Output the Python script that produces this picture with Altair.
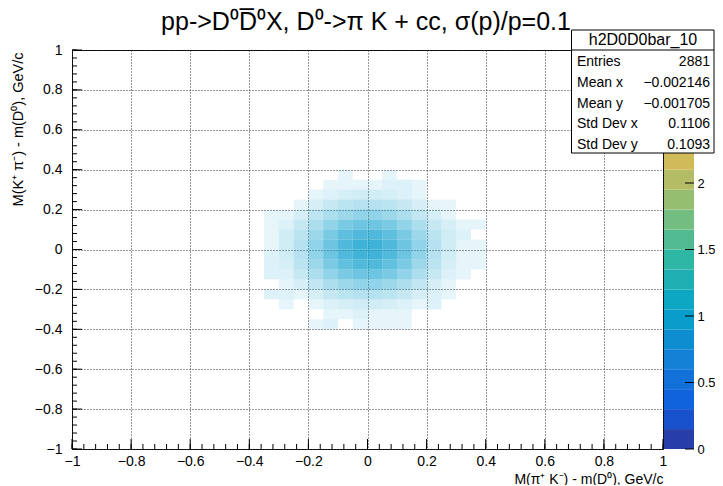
import altair as alt
import pandas as pd
import numpy as np

# ---------------- data ----------------
TITLE = "pp->D\u2070D\u0305\u2070X, D\u2070->\u03c0 K + cc, \u03c3(p)/p=0.1"
X_TITLE = "M(\u03c0\u207a K\u207b) - m(D\u2070), GeV/c"
Y_TITLE = "M(K\u207a \u03c0\u207b) - m(D\u2070), GeV/c"

X_TICKS = [-1, -0.8, -0.6, -0.4, -0.2, 0, 0.2, 0.4, 0.6, 0.8, 1]
Y_TICKS = [-1, -0.8, -0.6, -0.4, -0.2, 0, 0.2, 0.4, 0.6, 0.8, 1]
Z_TICKS = [0, 0.5, 1, 1.5, 2]          # visible palette labels (2.5 and 3 hidden by the stats box)
Z_MAX = 3.0
N_CONTOURS = 20

STAT_NAME = "h2D0D0bar_10"
STAT_LABELS = ["Entries", "Mean x", "Mean y", "Std Dev x", "Std Dev y"]
STAT_VALUES = ["2881", "\u22120.002146", "\u22120.001705", "0.1106", "0.1093"]

# estimated entries per 0.05 x 0.05 cell (rows: y from +0.425 down to -0.425)
X_CENTERS = [-0.425, -0.375, -0.325, -0.275, -0.225, -0.175, -0.125, -0.075, -0.025,
             0.025, 0.075, 0.125, 0.175, 0.225, 0.275, 0.325, 0.375, 0.425]
Y_CENTERS = [0.425, 0.375, 0.325, 0.275, 0.225, 0.175, 0.125, 0.075, 0.025,
             -0.025, -0.075, -0.125, -0.175, -0.225, -0.275, -0.325, -0.375, -0.425]
HALF = 0.025
COUNTS = [
    [0, 0, 0, 0, 0, 0, 0, 0, 0, 0, 0, 0, 0, 0, 0, 0, 0, 0],
    [0, 0, 0, 0, 0, 0, 0, 1, 0, 0, 1, 0, 0, 0, 0, 0, 0, 0],
    [0, 0, 0, 0, 0, 0, 1, 1, 1, 1, 2, 2, 1, 0, 0, 0, 0, 0],
    [0, 0, 0, 0, 0, 1, 2, 3, 4, 4, 3, 2, 1, 0, 0, 0, 0, 0],
    [0, 0, 0, 0, 1, 3, 6, 9, 11, 11, 9, 6, 3, 1, 1, 0, 0, 0],
    [0, 0, 1, 1, 3, 8, 14, 21, 26, 26, 21, 14, 7, 3, 1, 0, 0, 0],
    [0, 0, 1, 2, 6, 14, 26, 39, 48, 48, 39, 26, 14, 6, 3, 1, 1, 0],
    [0, 0, 1, 4, 9, 21, 39, 60, 73, 73, 60, 39, 21, 9, 4, 2, 0, 0],
    [0, 0, 1, 4, 11, 26, 48, 73, 90, 90, 73, 48, 26, 11, 4, 1, 1, 0],
    [0, 0, 2, 4, 11, 26, 48, 73, 89, 88, 72, 48, 26, 11, 4, 1, 1, 0],
    [0, 0, 2, 3, 9, 21, 39, 59, 72, 72, 59, 39, 21, 9, 3, 1, 1, 0],
    [0, 0, 2, 2, 6, 14, 26, 39, 48, 48, 39, 26, 14, 6, 2, 1, 0, 0],
    [0, 0, 0, 1, 3, 7, 14, 21, 26, 26, 21, 14, 7, 3, 1, 0, 0, 0],
    [0, 0, 2, 2, 1, 3, 6, 9, 11, 11, 9, 6, 3, 2, 1, 0, 0, 0],
    [0, 0, 0, 1, 0, 1, 2, 3, 4, 4, 3, 2, 1, 2, 0, 0, 0, 0],
    [0, 0, 0, 0, 0, 0, 1, 1, 2, 1, 1, 1, 0, 0, 0, 0, 0, 0],
    [0, 0, 0, 0, 0, 1, 2, 0, 1, 1, 1, 1, 0, 0, 0, 0, 0, 0],
    [0, 0, 0, 0, 0, 0, 0, 0, 0, 0, 0, 0, 0, 0, 0, 0, 0, 0],
]

# ---------------- ROOT kBird palette (style) ----------------
BIRD_STOPS = [0.0, 0.125, 0.25, 0.375, 0.5, 0.625, 0.75, 0.875, 1.0]
BIRD_R = [0.2082, 0.0592, 0.0780, 0.0232, 0.1802, 0.5301, 0.8186, 0.9956, 0.9764]
BIRD_G = [0.1664, 0.3599, 0.5041, 0.6419, 0.7178, 0.7492, 0.7328, 0.7862, 0.9832]
BIRD_B = [0.5293, 0.8684, 0.8385, 0.7914, 0.6425, 0.4662, 0.3499, 0.1968, 0.0539]


def bird(t):
    r = np.interp(t, BIRD_STOPS, BIRD_R)
    g = np.interp(t, BIRD_STOPS, BIRD_G)
    b = np.interp(t, BIRD_STOPS, BIRD_B)
    return "#%02x%02x%02x" % (int(round(r * 255)), int(round(g * 255)), int(round(b * 255)))


def band_color(k):
    idx = min(int((k + 0.99) * 255 / N_CONTOURS), 254)
    return bird(idx / 254.0)


dz = Z_MAX / N_CONTOURS
bands = pd.DataFrame({
    "zlo": [k * dz for k in range(N_CONTOURS)],
    "zhi": [(k + 1) * dz for k in range(N_CONTOURS)],
    "col": [band_color(k) for k in range(N_CONTOURS)],
})
ONE_COLOR = band_color(int(1.0 / dz))  # colour of a bin holding one entry

rows = []
for i, yc in enumerate(Y_CENTERS):
    for j, xc in enumerate(X_CENTERS):
        n = COUNTS[i][j]
        if n > 0:
            rows.append({"x0": xc - HALF, "x1": xc + HALF, "y0": yc - HALF, "y1": yc + HALF, "n": n})
cells = pd.DataFrame(rows)

# ---------------- layout ----------------
W, H = 591, 399
FONT = "Liberation Sans"

xscale = alt.Scale(domain=[-1, 1], nice=False, zero=False)
yscale = alt.Scale(domain=[-1, 1], nice=False, zero=False)
zscale = alt.Scale(domain=[0, Z_MAX], nice=False, zero=False)

xaxis = alt.Axis(values=X_TICKS, format="~g", grid=True, gridDash=[1, 2], gridColor="#333333",
                 gridWidth=1, ticks=False, domain=False, labelFontSize=14, labelPadding=5,
                 labelFlush=False, labelOverlap=False, labelColor="black",
                 title=X_TITLE, titleFontSize=14, titleFontWeight="normal", titleColor="black",
                 titleAnchor="end", titleAlign="right", titleBaseline="alphabetic",
                 titleX=W, titleY=34, zindex=0)
yaxis = alt.Axis(values=Y_TICKS, format="~g", grid=True, gridDash=[1, 2], gridColor="#333333",
                 gridWidth=1, ticks=False, domain=False, labelFontSize=14, labelPadding=10,
                 labelFlush=False, labelOverlap=False, labelColor="black",
                 title=Y_TITLE, titleFontSize=14.5, titleFontWeight="normal", titleColor="black",
                 titleAngle=270, titleAlign="right", titleBaseline="middle",
                 titleX=-54, titleY=2, zindex=0)
zaxis = alt.Axis(orient="right", values=Z_TICKS, format="~g", ticks=False, domain=False,
                 grid=False, offset=31, labelPadding=3, labelFontSize=13, labelColor="black",
                 labelFlush=False, labelOverlap=False, title=None, zindex=0)

density = alt.Chart(cells).mark_rect(color=ONE_COLOR, strokeWidth=0).encode(
    x=alt.X("x0:Q", scale=xscale, axis=xaxis),
    x2="x1:Q",
    y=alt.Y("y0:Q", scale=yscale, axis=yaxis),
    y2="y1:Q",
    opacity=alt.Opacity("n:Q", scale=alt.Scale(type="pow", exponent=0.45, domain=[0, 90], range=[0, 0.78]),
                        legend=None),
)

minor = [round(v, 2) for v in np.arange(-1.0, 1.0001, 0.04)]
xt_major = alt.Chart(pd.DataFrame({"x0": X_TICKS})).mark_rule(color="black").encode(
    x=alt.X("x0:Q", scale=xscale, axis=xaxis), y=alt.value(H), y2=alt.value(H - 10))
xt_minor = alt.Chart(pd.DataFrame({"x0": minor})).mark_rule(color="black").encode(
    x=alt.X("x0:Q", scale=xscale, axis=xaxis), y=alt.value(H), y2=alt.value(H - 5))
yt_major = alt.Chart(pd.DataFrame({"y0": Y_TICKS})).mark_rule(color="black").encode(
    y=alt.Y("y0:Q", scale=yscale, axis=yaxis), x=alt.value(0), x2=alt.value(10))
yt_minor = alt.Chart(pd.DataFrame({"y0": minor})).mark_rule(color="black").encode(
    y=alt.Y("y0:Q", scale=yscale, axis=yaxis), x=alt.value(0), x2=alt.value(5))

main = alt.layer(density, xt_major, xt_minor, yt_major, yt_minor)

cbar = alt.Chart(bands).mark_rect(strokeWidth=0).encode(
    x=alt.value(592), x2=alt.value(622),
    y=alt.Y("zlo:Q", scale=zscale, axis=zaxis), y2="zhi:Q",
    color=alt.Color("col:N", scale=None),
)
cbar_ticks = alt.Chart(pd.DataFrame({"zv": Z_TICKS})).mark_rule(color="black").encode(
    y=alt.Y("zv:Q", scale=zscale, axis=None), x=alt.value(613), x2=alt.value(622))

one = pd.DataFrame({"name": [STAT_NAME], "labels": ["\n".join(STAT_LABELS)],
                    "values": ["\n".join(STAT_VALUES)], "t": [TITLE]})
box = alt.Chart(one).mark_rect(fill="white", stroke="black", strokeWidth=1).encode(
    x=alt.value(499.5), x2=alt.value(642), y=alt.value(-20), y2=alt.value(103))
box_line = alt.Chart(one).mark_rule(color="black").encode(
    x=alt.value(499.5), x2=alt.value(642), y=alt.value(0))
box_head = alt.Chart(one).mark_text(fontSize=16, align="center", baseline="middle", color="black").encode(
    x=alt.value(571), y=alt.value(-10), text="name:N")
box_labels = alt.Chart(one).mark_text(fontSize=14, align="left", baseline="middle", color="black",
                                      lineBreak="\n", lineHeight=20.75).encode(
    x=alt.value(505), y=alt.value(12), text="labels:N")
box_values = alt.Chart(one).mark_text(fontSize=14, align="right", baseline="middle", color="black",
                                      lineBreak="\n", lineHeight=20.75).encode(
    x=alt.value(638), y=alt.value(12), text="values:N")
title = alt.Chart(one).mark_text(fontSize=25, align="center", baseline="alphabetic", color="black").encode(
    x=alt.value(294), y=alt.value(-20), text="t:N")

chart = alt.layer(main, cbar, cbar_ticks, box, box_line, box_head, box_labels, box_values, title).resolve_scale(
    y="independent"
).properties(
    width=W, height=H,
    padding={"left": 64, "top": 42, "right": 52, "bottom": 36},
    autosize=alt.AutoSizeParams(type="none"),
    background="white",
).configure(font=FONT).configure_view(stroke="black", strokeWidth=1)

chart.save("out.html", embed_options={"renderer": "svg", "actions": False})
